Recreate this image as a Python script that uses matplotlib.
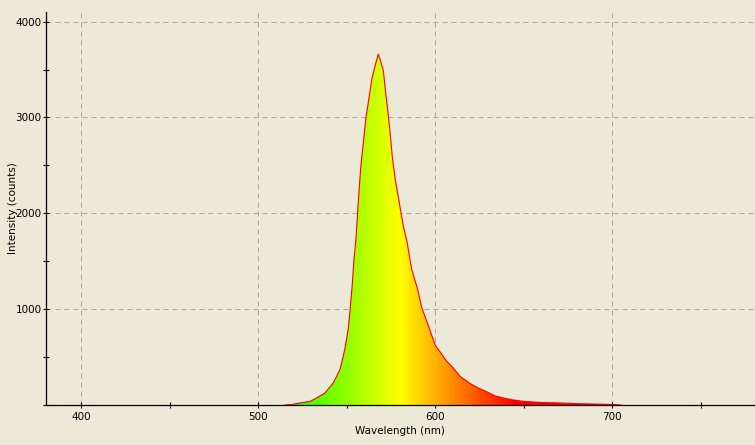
import numpy as np
import matplotlib
matplotlib.use("Agg")
import matplotlib.pyplot as plt
from matplotlib.patches import Polygon
from matplotlib.ticker import MultipleLocator

# ---- data ----
wavelength_nm = [515, 519, 523.5, 529.2, 532.9, 537.6, 542.3, 546.1, 548.8, 550.8,
                 551.9, 553.1, 554.0, 555.1, 556.8, 557.9, 560.8, 561.8, 563.1, 564.1,
                 565.9, 567.7, 568.7, 570.6, 571.9, 573.1, 574.4, 575.6, 577.3, 579.6,
                 580.6, 581.9, 584.0, 586.6, 590.0, 592.2, 593.2, 595.0, 600.0, 602.6,
                 606.4, 610.1, 613.9, 619.5, 624.2, 629.0, 633.7, 638.4, 643.1, 649.7,
                 659.0, 670.4, 680.0, 690.0, 700.0, 705.0]
intensity_counts = [0, 5, 21, 38, 73, 125, 230, 369, 578, 800,
                    1010, 1274, 1518, 1727, 2220, 2494, 3000, 3120, 3277, 3400,
                    3538, 3660, 3608, 3486, 3260, 3068, 2842, 2598, 2354, 2111,
                    2000, 1866, 1700, 1414, 1205, 1020, 970, 880, 620, 555,
                    456, 386, 299, 225, 178, 138, 95, 73, 55, 38,
                    27, 21, 14, 10, 5, 0]
x_ticks = [400, 500, 600, 700]
y_ticks = [1000, 2000, 3000, 4000]
x_label = "Wavelength (nm)"
y_label = "Intensity (counts)"

BG = "#ECE9D8"


def wavelength_to_rgb(w):
    w = np.asarray(w, dtype=float)
    r = np.zeros_like(w); g = np.zeros_like(w); b = np.zeros_like(w)
    m = (w >= 380) & (w < 440); r[m] = -(w[m] - 440) / 60; b[m] = 1
    m = (w >= 440) & (w < 490); g[m] = (w[m] - 440) / 50; b[m] = 1
    m = (w >= 490) & (w < 510); g[m] = 1; b[m] = -(w[m] - 510) / 20
    m = (w >= 510) & (w < 580); r[m] = (w[m] - 510) / 70; g[m] = 1
    m = (w >= 580) & (w < 645); r[m] = 1; g[m] = -(w[m] - 645) / 65
    m = (w >= 645); r[m] = 1
    return np.stack([r, g, b], axis=-1)


fig = plt.figure(figsize=(7.55, 4.45), dpi=100, facecolor=BG)
ax = fig.add_axes([46 / 755, 40 / 445, 708 / 755, 393 / 445], facecolor=BG)

ax.set_xlim(380, 780)
ax.set_ylim(0, 4100)

# grid behind
ax.set_axisbelow(True)
ax.grid(True, which="major", color="#a8a8a8", linestyle=(0, (5, 4)), linewidth=0.72)

# gradient fill clipped to the spectrum
cols = np.linspace(380, 780, 800)
img = wavelength_to_rgb(cols)[np.newaxis, :, :]
im = ax.imshow(img, extent=[380, 780, 0, 4100], aspect="auto", origin="lower",
               interpolation="bilinear", zorder=2)
verts = list(zip(wavelength_nm, intensity_counts))
verts = [(wavelength_nm[0], 0)] + verts + [(wavelength_nm[-1], 0)]
poly = Polygon(verts, closed=True, facecolor="none", edgecolor="none")
ax.add_patch(poly)
im.set_clip_path(poly)

ax.plot(wavelength_nm, intensity_counts, color="#ff0000", linewidth=0.8, zorder=3)

for s in ["top", "right"]:
    ax.spines[s].set_visible(False)
for s in ["left", "bottom"]:
    ax.spines[s].set_linewidth(0.9)
    ax.spines[s].set_zorder(4)

ax.set_xticks(x_ticks)
ax.set_yticks(y_ticks)
ax.xaxis.set_minor_locator(MultipleLocator(50))
ax.yaxis.set_minor_locator(MultipleLocator(500))
ax.tick_params(which="both", direction="inout", length=4.5, width=0.8, color="black")
ax.tick_params(axis="y", which="major", pad=1.0, labelsize=7.5)
ax.tick_params(axis="x", which="major", pad=2.5, labelsize=7.5)

ax.set_xlabel(x_label, fontsize=7.5, labelpad=3)
ax.set_ylabel(y_label, fontsize=7.5)
ax.yaxis.set_label_coords(-0.040, 0.5)

fig.savefig("out.png", dpi=100, facecolor=BG)
